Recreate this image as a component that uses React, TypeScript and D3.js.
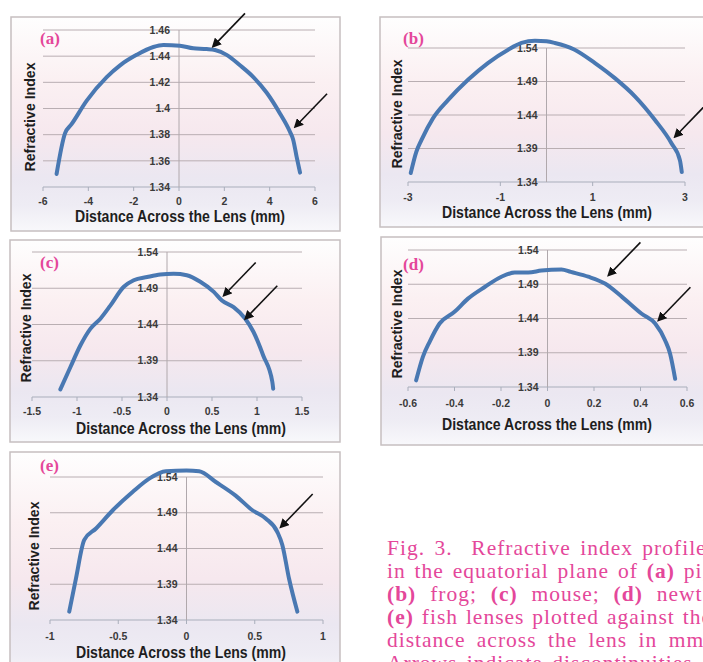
import React from 'react'
import * as d3 from 'd3'

// refractive index profiles
const PIG_X = [-5.4, -5.03, -4.74, -4.07, -3.19, -2.6, -1.87, -1.13, -0.69, 0.04, 0.63, 1.22, 1.59, 2.1, 2.69, 3.28, 3.87, 4.46, 4.9, 5.04, 5.19, 5.34]
const PIG_N = [1.35, 1.381, 1.388, 1.406, 1.424, 1.433, 1.441, 1.447, 1.4485, 1.448, 1.446, 1.4455, 1.4447, 1.441, 1.433, 1.424, 1.412, 1.396, 1.382, 1.376, 1.363, 1.351]

const FROG_X = [-2.94, -2.82, -2.71, -2.46, -2.13, -1.7, -1.27, -0.83, -0.54, -0.25, 0, 0.18, 0.61, 1.05, 1.48, 1.92, 2.35, 2.71, 2.89, 2.93]
const FROG_N = [1.3535, 1.385, 1.4025, 1.435, 1.4625, 1.4925, 1.5175, 1.5375, 1.5475, 1.551, 1.55, 1.5475, 1.5375, 1.5175, 1.495, 1.4675, 1.4325, 1.3975, 1.3725, 1.355]

const MOUSE_X = [-1.185, -1.074, -0.963, -0.852, -0.74, -0.63, -0.48, -0.37, -0.22, -0.074, 0.074, 0.22, 0.37, 0.52, 0.61, 0.74, 0.87, 0.96, 1.07, 1.17, 1.18]
const MOUSE_N = [1.3505, 1.381, 1.411, 1.434, 1.448, 1.466, 1.492, 1.501, 1.5055, 1.509, 1.51, 1.508, 1.499, 1.485, 1.473, 1.464, 1.448, 1.43, 1.397, 1.361, 1.3515]

const NEWT_X = [-0.565, -0.536, -0.507, -0.464, -0.4, -0.342, -0.27, -0.198, -0.141, -0.083, -0.026, 0.06, 0.1, 0.175, 0.247, 0.319, 0.405, 0.463, 0.506, 0.527, 0.549]
const NEWT_N = [1.3497, 1.384, 1.406, 1.4327, 1.4497, 1.469, 1.486, 1.501, 1.507, 1.507, 1.51, 1.5117, 1.508, 1.501, 1.491, 1.472, 1.447, 1.4326, 1.408, 1.389, 1.352]

const FISH_X = [-0.859, -0.81, -0.749, -0.663, -0.54, -0.395, -0.273, -0.151, 0, 0.093, 0.215, 0.36, 0.483, 0.58, 0.666, 0.702, 0.751, 0.812]
const FISH_N = [1.3517, 1.398, 1.452, 1.468, 1.4935, 1.519, 1.5377, 1.548, 1.549, 1.548, 1.533, 1.514, 1.4935, 1.482, 1.463, 1.445, 1.398, 1.3517]

// tick values
const PIG_XTICKS = [-6, -4, -2, 0, 2, 4, 6]
const PIG_YTICKS = [1.34, 1.36, 1.38, 1.4, 1.42, 1.44, 1.46]
const FROG_XTICKS = [-3, -1, 1, 3]
const MOUSE_XTICKS = [-1.5, -1, -0.5, 0, 0.5, 1, 1.5]
const NEWT_XTICKS = [-0.6, -0.4, -0.2, 0, 0.2, 0.4, 0.6]
const FISH_XTICKS = [-1, -0.5, 0, 0.5, 1]
const N_YTICKS = [1.34, 1.39, 1.44, 1.49, 1.54]

// arrow tips (data coords) marking discontinuities
const PIG_ARROWS = [[1.5, 1.4475], [5.12, 1.386]]
const FROG_ARROWS = [[2.78, 1.4075]]
const MOUSE_ARROWS = [[0.63, 1.48], [0.87, 1.448]]
const NEWT_ARROWS = [[0.262, 1.503], [0.477, 1.4375]]
const FISH_ARROWS = [[0.69, 1.47]]

const X_TITLE = 'Distance Across the Lens (mm)'
const Y_TITLE = 'Refractive Index'

const CAPTION = [
  'Fig. 3.  Refractive index profiles',
  'in the equatorial plane of (a) pig;',
  '(b) frog; (c) mouse; (d) newt and',
  '(e) fish lenses plotted against the',
  'distance across the lens in mm.',
  'Arrows indicate discontinuities',
]
// justified column: extra space between words, per line
const CAPTION_WORD_GAP = [3, 2.5, 7.5, 1.5, 5, 3]

const PINK = '#e4479a'
const BLUE = '#4978b2'

const panels = [
  {
    id: 'a', xs: PIG_X, ns: PIG_N, xTicks: PIG_XTICKS, yTicks: PIG_YTICKS, arrows: PIG_ARROWS,
    xDom: [-6, 6], yDom: [1.34, 1.46],
    frame: [11, 17, 329, 214], plot: [43, 315, 30, 187],
    tickDy: 18, titleDy: 35, titleX: 180, yTitle: [35, 117], label: [40, 44],
  },
  {
    id: 'b', xs: FROG_X, ns: FROG_N, xTicks: FROG_XTICKS, yTicks: N_YTICKS, arrows: FROG_ARROWS,
    xDom: [-3, 3], yDom: [1.34, 1.54],
    frame: [380, 17, 340, 210], plot: [408, 685, 48, 182],
    tickDy: 19, titleDy: 36, titleX: 547, yTitle: [402, 114], label: [403, 44],
  },
  {
    id: 'c', xs: MOUSE_X, ns: MOUSE_N, xTicks: MOUSE_XTICKS, yTicks: N_YTICKS, arrows: MOUSE_ARROWS,
    xDom: [-1.5, 1.5], yDom: [1.34, 1.54],
    frame: [10, 240, 330, 202], plot: [32, 302, 252, 397],
    tickDy: 18, titleDy: 37, titleX: 181, yTitle: [31, 328], label: [40, 268],
  },
  {
    id: 'd', xs: NEWT_X, ns: NEWT_N, xTicks: NEWT_XTICKS, yTicks: N_YTICKS, arrows: NEWT_ARROWS,
    xDom: [-0.6, 0.6], yDom: [1.34, 1.54],
    frame: [381, 237, 340, 208], plot: [408, 687, 250, 387],
    tickDy: 20, titleDy: 43, titleX: 547, yTitle: [402, 324], label: [403, 270],
  },
  {
    id: 'e', xs: FISH_X, ns: FISH_N, xTicks: FISH_XTICKS, yTicks: N_YTICKS, arrows: FISH_ARROWS,
    xDom: [-1, 1], yDom: [1.34, 1.54],
    frame: [10, 452, 330, 230], plot: [50, 323, 477, 620],
    tickDy: 20, titleDy: 38, titleX: 181, yTitle: [39, 556], label: [40, 471],
  },
]

function Panel({ p }) {
  const [l, r, t, b] = p.plot
  const x = d3.scaleLinear().domain(p.xDom).range([l, r])
  const y = d3.scaleLinear().domain(p.yDom).range([b, t])
  const pts = p.xs.map((v, i) => [v, p.ns[i]])
  const line = d3.line().x(d => x(d[0])).y(d => y(d[1])).curve(d3.curveMonotoneX)
  const x0 = x(0)
  const [fx, fy, fw, fh] = p.frame
  return (
    <g>
      <rect x={fx} y={fy} width={fw} height={fh} fill="url(#bg)" stroke="#c6bfc0" strokeWidth={1.5} />
      {/* grid */}
      {p.yTicks.slice(1).map(v => (
        <line key={v} x1={l} x2={r} y1={y(v)} y2={y(v)} stroke="#b9aeb2" strokeWidth={1} />
      ))}
      {/* x axis */}
      <line x1={l} x2={r} y1={b} y2={b} stroke="#a9aebb" strokeWidth={1} />
      {p.xTicks.map(v => (
        <line key={v} x1={x(v)} x2={x(v)} y1={b} y2={b + 4} stroke="#a9aebb" strokeWidth={1} />
      ))}
      <line x1={x0} x2={x0} y1={t} y2={b} stroke="#b0a8ac" strokeWidth={1} />
      <g fontFamily="'Liberation Sans', Arial, sans-serif" fontWeight="bold" fontSize={10.5} fill="#3a3a3a">
        {p.yTicks.map(v => (
          <text key={v} x={x0 - 9} y={y(v)} dy="0.35em" textAnchor="end">{String(v)}</text>
        ))}
        {p.xTicks.map(v => (
          <text key={v} x={x(v)} y={b + p.tickDy} textAnchor="middle">{String(v)}</text>
        ))}
      </g>
      <g fontFamily="'Liberation Sans', Arial, sans-serif" fontWeight="bold" fill="#1e1e1e">
        <text x={p.titleX} y={b + p.titleDy} fontSize={16.5} textAnchor="middle"
          textLength={210} lengthAdjust="spacingAndGlyphs">{X_TITLE}</text>
        <text transform={`translate(${p.yTitle[0]},${p.yTitle[1]}) rotate(-90)`} fontSize={15.5}
          textAnchor="middle" textLength={109} lengthAdjust="spacingAndGlyphs">{Y_TITLE}</text>
      </g>
      <path d={line(pts)} fill="none" stroke={BLUE} strokeWidth={4} strokeLinejoin="round" strokeLinecap="round" />
      {p.arrows.map((a, i) => {
        const tx = x(a[0]), ty = y(a[1])
        return (
          <line key={i} x1={tx + 32} y1={ty - 33} x2={tx + 4} y2={ty - 4}
            stroke="#111" strokeWidth={1.6} markerEnd="url(#arrow)" />
        )
      })}
      <text x={p.label[0]} y={p.label[1]} fontFamily="'Liberation Serif', 'Times New Roman', serif"
        fontWeight="bold" fontSize={17} fill={PINK}>({p.id})</text>
    </g>
  )
}

function CaptionLine({ text, y, gap }) {
  const parts = text.split(/(\([a-e]\))/)
  return (
    <text x={387} y={y} style={{ whiteSpace: 'pre', wordSpacing: gap + 'px' }}>
      {parts.map((s, i) => (
        <tspan key={i} fontWeight={/^\([a-e]\)$/.test(s) ? 'bold' : 'normal'}>{s}</tspan>
      ))}
    </text>
  )
}

export default function App() {
  return (
    <svg width={703} height={662} style={{ position: 'fixed', left: 0, top: 0, background: '#fff' }}>
      <defs>
        <linearGradient id="bg" x1="0" y1="0" x2="0" y2="1">
          <stop offset="0" stopColor="#fefefe" />
          <stop offset="0.3" stopColor="#fbf0f2" />
          <stop offset="0.55" stopColor="#f6e8ee" />
          <stop offset="0.75" stopColor="#ebe7f1" />
          <stop offset="0.88" stopColor="#eeecf4" />
          <stop offset="1" stopColor="#f8f8fb" />
        </linearGradient>
        <marker id="arrow" viewBox="0 0 10 10" refX="2" refY="5" markerWidth="6" markerHeight="6"
          orient="auto" markerUnits="strokeWidth">
          <path d="M0,0 L10,5 L0,10 z" fill="#111" />
        </marker>
      </defs>
      {panels.map(p => <Panel key={p.id} p={p} />)}
      <g fontFamily="'Liberation Serif', 'Times New Roman', serif" fontSize={21.5} fill={PINK} letterSpacing={1}>
        {CAPTION.map((c, i) => (
          <CaptionLine key={i} text={c} y={555 + i * 23} gap={CAPTION_WORD_GAP[i]} />
        ))}
      </g>
    </svg>
  )
}
